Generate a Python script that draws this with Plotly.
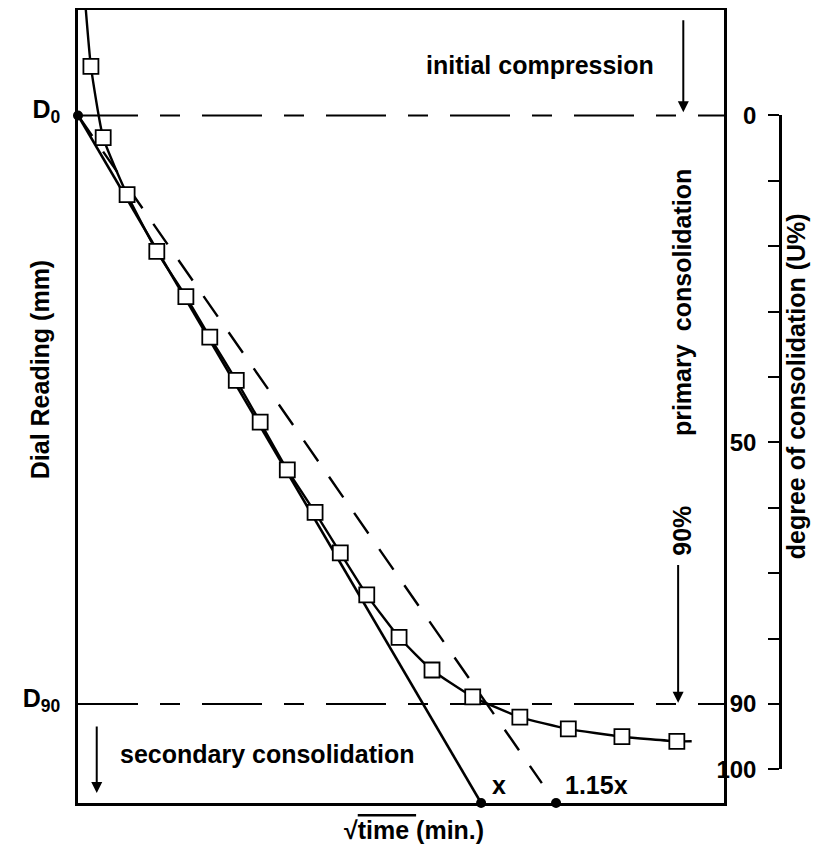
import plotly.graph_objects as go

# ---- data ----
sqrt_time = [0.20, 0.39, 0.76, 1.22, 1.67, 2.04, 2.45, 2.82, 3.24, 3.67,
             4.06, 4.47, 4.97, 5.48, 6.11, 6.84, 7.59, 8.42, 9.27]
u_pct = [-7.5, 3.4, 12.1, 20.8, 27.7, 33.9, 40.5, 46.9, 54.2, 60.7,
         66.9, 73.3, 79.8, 84.8, 88.9, 92.0, 93.8, 95.0, 95.7]
curve_head_x, curve_head_u = [0.11], [-17.5]
curve_tail_x, curve_tail_u = [9.50], [95.7]

tangent_x = [0.0, 6.24]
tangent_u = [0.0, 105.13]
corrected_x = [0.0, 7.18]
corrected_u = [0.0, 102.1]
dots_x = [0.0, 6.24, 7.40]
dots_u = [0.0, 105.13, 105.13]

d_levels = [0, 90]
d_labels = ["D<sub>0</sub>", "D<sub>90</sub>"]
u_ticks = [0, 10, 20, 30, 40, 50, 60, 70, 80, 90, 100]
u_ticktext = ["0", "", "", "", "", "50", "", "", "", "90", "100"]

# ---- page geometry (reference pixel positions; the page body adds an 8 px offset) ----
OFF = 8
FIG_W, FIG_H = 835 - OFF, 864 - OFF
LEFT_PX, RIGHT_PX, TOP_PX, BOTTOM_PX = 78, 800, 9.5, 803
PX_PER_U = 6.544
D0_PX = 115
X_RANGE = [0, 10]
U_RANGE = [(BOTTOM_PX - D0_PX) / PX_PER_U, (TOP_PX - D0_PX) / PX_PER_U]

ML = LEFT_PX - OFF
MT = TOP_PX - OFF
MR = FIG_W - (RIGHT_PX - OFF)
MB = FIG_H - (BOTTOM_PX - OFF)
PW = RIGHT_PX - LEFT_PX
PH = BOTTOM_PX - TOP_PX

def px_x(px):
    return (px - LEFT_PX) / PW

def px_y(py):
    return (BOTTOM_PX - py) / PH

FONT = "Liberation Sans, Arial, Helvetica, sans-serif"

fig = go.Figure()

dash_pattern = "60px,22px,20px,22px"
for lvl in d_levels:
    fig.add_trace(go.Scatter(x=X_RANGE, y=[lvl, lvl], mode="lines",
                             line=dict(color="black", width=2, dash=dash_pattern),
                             hoverinfo="skip", showlegend=False))

fig.add_trace(go.Scatter(x=corrected_x, y=corrected_u, mode="lines",
                         line=dict(color="black", width=2.4, dash="25px,19px"),
                         showlegend=False))
fig.add_trace(go.Scatter(x=tangent_x, y=tangent_u, mode="lines",
                         line=dict(color="black", width=2.6),
                         showlegend=False))
fig.add_trace(go.Scatter(x=curve_head_x + sqrt_time + curve_tail_x,
                         y=curve_head_u + u_pct + curve_tail_u, mode="lines",
                         line=dict(color="black", width=2.4, shape="spline", smoothing=0.5),
                         showlegend=False))
fig.add_trace(go.Scatter(x=sqrt_time, y=u_pct, mode="markers",
                         marker=dict(symbol="square", size=15, color="white",
                                     line=dict(color="black", width=1.8)),
                         showlegend=False))
fig.add_trace(go.Scatter(x=dots_x, y=dots_u, mode="markers", cliponaxis=False,
                         marker=dict(size=10, color="black"), showlegend=False))
# dummy trace so the right-hand U% axis is drawn
fig.add_trace(go.Scatter(x=[None], y=[None], yaxis="y2", showlegend=False))

fig.update_layout(
    width=FIG_W, height=FIG_H,
    margin=dict(l=ML, r=MR, t=MT, b=MB, autoexpand=False),
    paper_bgcolor="white", plot_bgcolor="rgba(0,0,0,0)",
    font=dict(family=FONT, size=25, color="black", weight="bold"),
    showlegend=False,
    xaxis=dict(domain=[0, px_x(724)], range=X_RANGE, showgrid=False, zeroline=False,
               showticklabels=False, ticks="", showline=True, mirror=True,
               linecolor="black", linewidth=2.5, automargin=False),
    yaxis=dict(range=U_RANGE, showgrid=False, zeroline=False, showline=True,
               mirror=True, linecolor="black", linewidth=2.5, automargin=False,
               tickmode="array", tickvals=d_levels, ticktext=d_labels, ticks="",
               tickfont=dict(size=25), ticklabelstandoff=10, ticklabelshift=6),
    yaxis2=dict(domain=[px_y(D0_PX + 100 * PX_PER_U), px_y(D0_PX)], range=[100, 0],
                anchor="free", position=px_x(780), side="left", automargin=False,
                showgrid=False, zeroline=False, showline=True,
                linecolor="black", linewidth=2.5,
                tickmode="array", tickvals=u_ticks, ticktext=u_ticktext,
                ticks="outside", ticklen=11, tickwidth=2.2, tickcolor="black",
                tickfont=dict(size=24), ticklabelstandoff=7),
)

ann_font = dict(family=FONT, size=25, color="black", weight="bold")
texts = [
    dict(x=7.15, y=-7.7, text="initial compression"),
    dict(x=2.94, y=97.6, text="secondary consolidation"),
    dict(x=6.52, y=102.4, text="x"),
    dict(x=8.03, y=102.4, text="1.15x"),
]
for t in texts:
    fig.add_annotation(xref="x", yref="y", showarrow=False, font=ann_font, **t)

# vertical phrase "90%  primary  consolidation", word by word as spaced in the figure
vertical_words = ["90%", "primary", "consolidation"]
vertical_word_u = [63.5, 42.0, 20.6]
for word, u in zip(vertical_words, vertical_word_u):
    fig.add_annotation(xref="x", yref="y", x=9.35, y=u, text=word, textangle=-90,
                       showarrow=False, font=ann_font)

arrows = [
    dict(x=9.37, y=-0.5, ax=9.37, ay=-14.8),
    dict(x=9.29, y=89.8, ax=9.29, ay=68.5),
    dict(x=0.29, y=103.6, ax=0.29, ay=93.2),
]
for a in arrows:
    fig.add_annotation(xref="x", yref="y", axref="x", ayref="y", text="",
                       showarrow=True, arrowhead=2, arrowsize=1.1, arrowwidth=2,
                       arrowcolor="black", standoff=0, startstandoff=0, **a)

fig.add_annotation(xref="paper", yref="paper", x=px_x(24), y=px_y(370),
                   text="Dial Reading (mm)", textangle=-90, showarrow=False, font=ann_font)
fig.add_annotation(xref="paper", yref="paper", x=px_x(812), y=px_y(386),
                   text="degree of consolidation (U%)", textangle=-90, showarrow=False,
                   font=ann_font)
fig.add_annotation(xref="paper", yref="paper", x=px_x(414), y=px_y(846),
                   text="\u221a<span style='text-decoration:overline'>time\u00a0</span>(min.)",
                   showarrow=False, font=ann_font)

fig.write_html("out.html")
